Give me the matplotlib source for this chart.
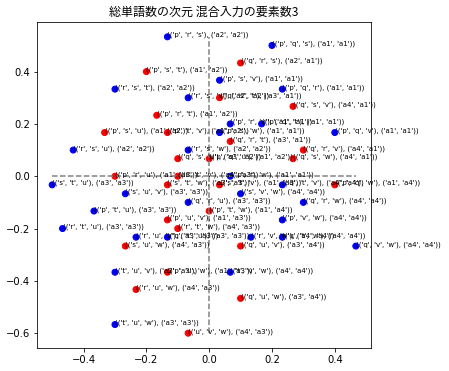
import matplotlib
matplotlib.use("Agg")
import matplotlib.pyplot as plt

# word triples, element pairs, colour group and 2-D coordinates
words = ['prs', 'pqs', 'qrs', 'pst', 'psv', 'rst', 'pqr', 'rsv', 'qst', 'qsv',
         'prt', 'prv', 'pqt', 'psu', 'ptv', 'psw', 'pqv', 'qrt', 'rsu', 'rsw',
         'qrv', 'qsu', 'pqu', 'qsw', 'pru', 'rtv', 'prw', 'stu', 'stw', 'stv',
         'qtv', 'pqw', 'suv', 'svw', 'qru', 'qrw', 'ptu', 'ptw', 'puv', 'pvw',
         'rtu', 'rtw', 'ruv', 'qtu', 'rvw', 'qtw', 'suw', 'quv', 'qvw', 'tuv',
         'puw', 'tvw', 'ruw', 'quw', 'tuw', 'uvw']
pairs = [('a2', 'a2'), ('a1', 'a1'), ('a2', 'a1'), ('a1', 'a2'), ('a1', 'a1'),
         ('a2', 'a2'), ('a1', 'a1'), ('a2', 'a2'), ('a3', 'a1'), ('a4', 'a1'),
         ('a1', 'a2'), ('a1', 'a1'), ('a1', 'a1'), ('a1', 'a2'), ('a1', 'a2'),
         ('a1', 'a1'), ('a1', 'a1'), ('a3', 'a1'), ('a2', 'a2'), ('a2', 'a2'),
         ('a4', 'a1'), ('a3', 'a2'), ('a1', 'a2'), ('a4', 'a1'), ('a1', 'a3'),
         ('a4', 'a3'), ('a1', 'a1'), ('a3', 'a3'), ('a3', 'a3'), ('a1', 'a3'),
         ('a4', 'a4'), ('a1', 'a4'), ('a3', 'a3'), ('a4', 'a4'), ('a3', 'a3'),
         ('a4', 'a4'), ('a3', 'a3'), ('a1', 'a4'), ('a1', 'a3'), ('a4', 'a4'),
         ('a3', 'a3'), ('a4', 'a3'), ('a3', 'a3'), ('a3', 'a3'), ('a4', 'a4'),
         ('a4', 'a4'), ('a4', 'a3'), ('a3', 'a4'), ('a4', 'a4'), ('a3', 'a3'),
         ('a1', 'a3'), ('a4', 'a4'), ('a4', 'a3'), ('a3', 'a4'), ('a3', 'a3'),
         ('a4', 'a3')]
groups = ['b', 'b', 'r', 'r', 'b', 'b', 'b', 'b', 'r', 'r',
          'r', 'b', 'b', 'r', 'r', 'b', 'b', 'r', 'b', 'b',
          'r', 'r', 'r', 'r', 'r', 'r', 'b', 'b', 'r', 'r',
          'b', 'r', 'b', 'b', 'b', 'b', 'b', 'r', 'r', 'b',
          'b', 'r', 'b', 'b', 'b', 'b', 'r', 'r', 'b', 'b',
          'r', 'b', 'r', 'r', 'b', 'r']
xs = [-0.133, 0.2, 0.1, -0.2, 0.033, -0.3, 0.233, -0.067, 0.033, 0.267,
      -0.167, 0.067, 0.167, -0.333, -0.133, 0.033, 0.4, 0.067, -0.433, -0.067,
      0.3, -0.1, 0.0, 0.267, -0.3, -0.1, 0.067, -0.5, -0.133, 0.033,
      0.233, 0.4, -0.267, 0.1, -0.067, 0.3, -0.367, 0.0, -0.133, 0.233,
      -0.467, -0.1, -0.233, -0.133, 0.133, 0.233, -0.267, 0.1, 0.467, -0.3,
      -0.133, 0.067, -0.233, 0.1, -0.3, -0.067]
ys = [0.533, 0.5, 0.433, 0.4, 0.367, 0.333, 0.333, 0.3, 0.3, 0.267,
      0.233, 0.2, 0.2, 0.167, 0.167, 0.167, 0.167, 0.133, 0.1, 0.1,
      0.1, 0.067, 0.067, 0.067, 0.0, 0.0, 0.0, -0.033, -0.033, -0.033,
      -0.033, -0.033, -0.067, -0.067, -0.1, -0.1, -0.133, -0.133, -0.167, -0.167,
      -0.2, -0.2, -0.233, -0.233, -0.233, -0.233, -0.267, -0.267, -0.267, -0.367,
      -0.367, -0.367, -0.433, -0.467, -0.567, -0.6]

TITLE = '総単語数の次元 混合入力の要素数3'

fig = plt.figure(figsize=(449 / 72, 371 / 72), dpi=72)
ax = fig.add_axes([37 / 449, 23 / 371, 334 / 449, 326 / 371])

colors = ['red' if g == 'r' else 'blue' for g in groups]

# dashed axes through the origin, spanning the data
ax.plot([min(xs), max(xs)], [0, 0], '--', color='gray')
ax.plot([0, 0], [min(ys), max(ys)], '--', color='gray')

ax.scatter(xs, ys, c=colors)
for w, p, x, y in zip(words, pairs, xs, ys):
    ax.text(x, y, str((tuple(w), p)), fontsize=7)

ax.set_title(TITLE, family=['Noto Sans CJK JP', 'DejaVu Sans'], fontsize=12)

fig.savefig('out.png', dpi=72)
